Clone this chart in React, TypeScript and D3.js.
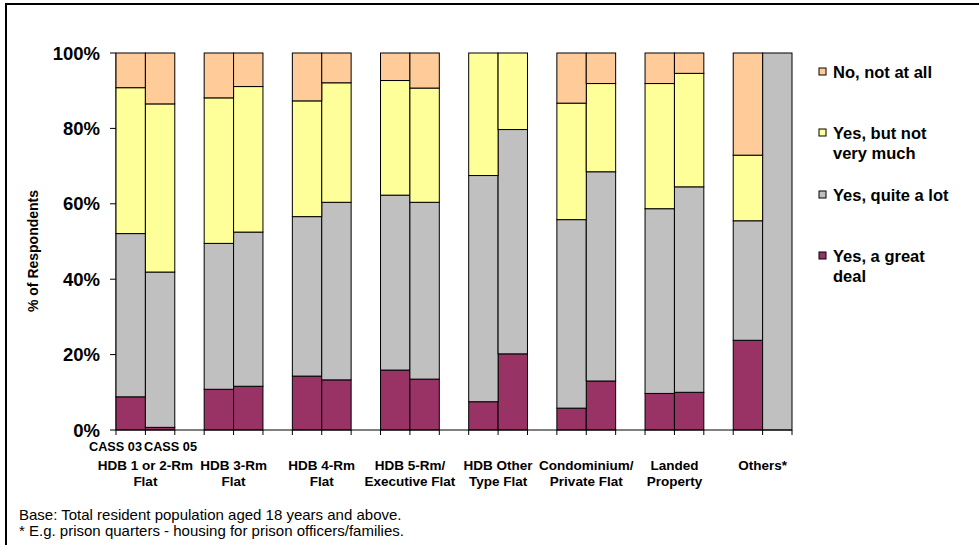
import React from "react";
import * as d3 from "d3";

// Dwelling types (each has a CASS 03 and CASS 05 bar)
const groups = [
  ["HDB 1 or 2-Rm", "Flat"],
  ["HDB 3-Rm", "Flat"],
  ["HDB 4-Rm", "Flat"],
  ["HDB 5-Rm/", "Executive Flat"],
  ["HDB Other", "Type Flat"],
  ["Condominium/", "Private Flat"],
  ["Landed", "Property"],
  ["Others*"],
];
const surveys = ["CASS 03", "CASS 05"];

// Series values in %, one entry per bar (CASS 03, CASS 05 for each dwelling type)
const greatDeal = [8.8, 0.7, 10.8, 11.6, 14.3, 13.3, 15.9, 13.5, 7.5, 20.2, 5.8, 13.0, 9.7, 10.0, 23.8, 0];
const quiteALot = [43.3, 41.2, 38.7, 40.9, 42.3, 47.1, 46.4, 46.9, 60.0, 59.5, 50.0, 55.5, 49.0, 54.5, 31.7, 100];
const notVeryMuch = [38.7, 44.6, 38.6, 38.6, 30.7, 31.7, 30.4, 30.3, 32.5, 20.3, 30.9, 23.4, 33.2, 30.1, 17.4, 0];
const notAtAll = [9.2, 13.5, 11.9, 8.9, 12.7, 7.9, 7.3, 9.3, 0, 0, 13.3, 8.1, 8.1, 5.4, 27.1, 0];

const yTicks = [0, 20, 40, 60, 80, 100];

const seriesKeys = ["greatDeal", "quiteALot", "notVeryMuch", "notAtAll"];
const seriesColors = ["#993366", "#C0C0C0", "#FFFF99", "#FFCC99"];
const legendItems = [
  { lines: ["No, not at all"], color: "#FFCC99" },
  { lines: ["Yes, but not", "very much"], color: "#FFFF99" },
  { lines: ["Yes, quite a lot"], color: "#C0C0C0" },
  { lines: ["Yes, a great", "deal"], color: "#993366" },
];

const W = 979;
const H = 545;
const FONT = "Arial, 'Liberation Sans', Helvetica, sans-serif";

export default function App() {
  // 3 slots per dwelling type (two bars + spacer), last spacer dropped
  const nSlots = groups.length * 3 - 1;
  const x0 = 116;
  const x1 = 792;
  const slotScale = d3.scaleLinear().domain([0, nSlots]).range([x0, x1]);
  const y = d3.scaleLinear().domain([0, 100]).range([430, 53]);

  const rows = greatDeal.map((_, i) => ({
    greatDeal: greatDeal[i],
    quiteALot: quiteALot[i],
    notVeryMuch: notVeryMuch[i],
    notAtAll: notAtAll[i],
  }));
  const stacked = d3.stack<any>().keys(seriesKeys)(rows);
  const barSlot = (i: number) => Math.floor(i / 2) * 3 + (i % 2);

  const boundaries = d3.range(nSlots + 1);

  return (
    <div style={{ position: "absolute", left: 0, top: 0 }}>
      <svg width={W} height={H} style={{ display: "block", background: "#fff" }}>
        {/* frame */}
        <path d={`M6,${H} V4 H${W}`} fill="none" stroke="#000" strokeWidth={2} />

        {/* y axis */}
        <line x1={x0} x2={x0} y1={y(0)} y2={y(100)} stroke="#000" strokeWidth={1} />
        {yTicks.map((t) => (
          <g key={t}>
            <line x1={x0 - 6} x2={x0} y1={y(t)} y2={y(t)} stroke="#000" />
            <text
              x={100}
              y={y(t) + 6.5}
              textAnchor="end"
              fontFamily={FONT}
              fontWeight="bold"
              fontSize={18.5}
            >
              {t}%
            </text>
          </g>
        ))}
        <text
          transform={`translate(38,251) rotate(-90)`}
          textAnchor="middle"
          fontFamily={FONT}
          fontWeight="bold"
          fontSize={14}
        >
          % of Respondents
        </text>

        {/* bars */}
        {stacked.map((layer, si) =>
          layer.map((d, i) => {
            const h = y(d[0]) - y(d[1]);
            if (h <= 0) return null;
            const s = barSlot(i);
            return (
              <rect
                key={`${si}-${i}`}
                x={slotScale(s)}
                y={y(d[1])}
                width={slotScale(s + 1) - slotScale(s)}
                height={h}
                fill={seriesColors[si]}
                stroke="#000"
                strokeWidth={1}
              />
            );
          })
        )}

        {/* x axis */}
        <line x1={x0} x2={x1} y1={y(0)} y2={y(0)} stroke="#000" />
        {boundaries.map((b) => (
          <line
            key={b}
            x1={slotScale(b)}
            x2={slotScale(b)}
            y1={y(0)}
            y2={y(0) + 5}
            stroke="#000"
          />
        ))}

        {/* survey labels under first dwelling type */}
        {surveys.map((s, i) => (
          <text
            key={s}
            x={i === 0 ? 115.5 : 170.5}
            y={451}
            textAnchor="middle"
            fontFamily={FONT}
            fontWeight="bold"
            fontSize={12.7}
          >
            {s}
          </text>
        ))}

        {/* dwelling type labels */}
        {groups.map((g, gi) => (
          <text
            key={gi}
            x={slotScale(gi * 3 + 1)}
            y={470}
            textAnchor="middle"
            fontFamily={FONT}
            fontWeight="bold"
            fontSize={13.5}
          >
            {g.map((line, li) => (
              <tspan key={li} x={slotScale(gi * 3 + 1)} dy={li === 0 ? 0 : 16}>
                {line}
              </tspan>
            ))}
          </text>
        ))}

        {/* legend */}
        {legendItems.map((it, i) => {
          const ly = [79, 140, 202, 263][i];
          return (
            <g key={i}>
              <rect x={819} y={ly - 11} width={7} height={7} fill={it.color} stroke="#000" strokeWidth={1} />
              <text fontFamily={FONT} fontWeight="bold" fontSize={16.5} y={ly - 1}>
                {it.lines.map((line, li) => (
                  <tspan key={li} x={833} dy={li === 0 ? 0 : 20}>
                    {line}
                  </tspan>
                ))}
              </text>
            </g>
          );
        })}

        {/* footnotes */}
        <text x={19} y={520} fontFamily={FONT} fontSize={15}>
          Base: Total resident population aged 18 years and above.
        </text>
        <text x={19} y={536} fontFamily={FONT} fontSize={15}>
          * E.g. prison quarters - housing for prison officers/families.
        </text>
      </svg>
    </div>
  );
}
